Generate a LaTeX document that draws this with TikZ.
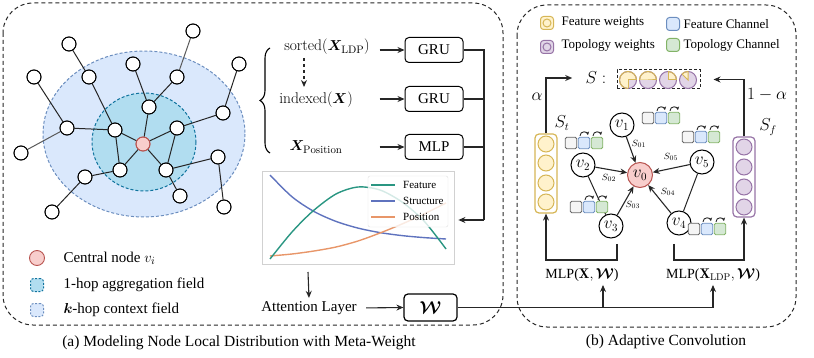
\documentclass[tikz,border=0pt]{standalone}
\usepackage{amsmath,bm}
\usepackage{fontspec}
\newfontfamily\tnr{Liberation Serif}
\usetikzlibrary{arrows.meta,decorations.pathreplacing,calc}
\definecolor{kfill}{HTML}{DAE8FC}\definecolor{kdraw}{HTML}{6C8EBF}
\definecolor{hfill}{HTML}{B1DDF0}\definecolor{hdraw}{HTML}{10739E}
\definecolor{rfill}{HTML}{F8CECC}\definecolor{rdraw}{HTML}{B85450}
\definecolor{yfill}{HTML}{FFF2CC}\definecolor{ydraw}{HTML}{D6B656}
\definecolor{pfill}{HTML}{E1D5E7}\definecolor{pdraw}{HTML}{9673A6}
\definecolor{gfill}{HTML}{D5E8D4}\definecolor{gdraw}{HTML}{82B366}
\definecolor{grfill}{HTML}{F5F5F5}\definecolor{grdraw}{HTML}{666666}
\definecolor{fcol}{RGB}{42,150,130}\definecolor{scol}{RGB}{95,115,190}\definecolor{pcol}{RGB}{232,150,105}
\newcommand\fs[1]{\fontsize{#1}{#1}\selectfont}
\newcommand\mypie[4]{%
 \fill[pfill] (#1,#2) circle[radius=8.5];
 \fill[yfill] (#1,#2) -- ++(#3:8.5) arc[start angle=#3,end angle=#4,radius=8.5] -- cycle;
 \draw[pdraw,line width=1pt] (#1,#2) circle[radius=8.5];
 \draw[ydraw,line width=1pt] (#1,#2) ++(#3:8.5) -- (#1,#2) -- ++(#4:8.5);
 \draw[ydraw,line width=1pt] (#1,#2) ++(#3:8.5) arc[start angle=#3,end angle=#4,radius=8.5];}
\newcommand\chtrip[3]{%
 \node[sq,fill=grfill,draw=grdraw] (#1a) at (#2,#3) {};
 \node[sq,fill=kfill,draw=kdraw] (#1b) at (#2+13,#3) {};
 \node[sq,fill=gfill,draw=gdraw] (#1c) at (#2+26,#3) {};
 \draw[lp] ($(#1b.north)+(-4,-1)$) arc[start angle=180,end angle=350,radius=4];
 \draw[lp] ($(#1c.north)+(-4,-1)$) arc[start angle=180,end angle=350,radius=4];}
\tikzset{
 gn/.style={circle,draw=black,fill=white,line width=0.9pt,minimum size=14pt,inner sep=0pt},
 ge/.style={line width=1pt,draw=black!85},
 boxn/.style={draw,rounded corners=4pt,line width=1pt,minimum width=58pt,minimum height=25pt,inner sep=0pt},
 arr/.style={-{Stealth[length=7pt,width=6pt]},line width=1.1pt,draw=black!85},
 vn/.style={circle,draw,line width=1pt,minimum size=24pt,inner sep=0pt,fill=white,font=\fs{16}},
 sq/.style={rounded corners=1.5pt,minimum size=11.5pt,inner sep=0pt,line width=0.9pt},
 lp/.style={-{Stealth[length=3.5pt,width=3.5pt]},line width=0.9pt,draw=black!85},
 panel/.style={draw=black!85,line width=1pt,dash pattern=on 4pt off 3pt,rounded corners=30pt},
 lbl/.style={font=\fs{9.5}},
 icon/.style={rounded corners=3pt,minimum size=13pt,inner sep=0pt,line width=1pt},
}
\begin{document}
\begin{tikzpicture}[x=1pt,y=-1pt,font=\tnr\fs{15}]
\useasboundingbox (0,0) rectangle (814,358);
% panels
\draw[panel] (3,3) rectangle (503,325);
\draw[panel] (517,5) rectangle (796,327);
\node[font=\tnr\fs{15.5}] (capa) at (239,343) {(a) Modeling Node Local Distribution with Meta-Weight};
\node[font=\tnr\fs{15.5}] (capb) at (666,342) {(b) Adaptive Convolution};
% fields
\draw[kdraw,fill=kfill,dash pattern=on 3pt off 2pt,line width=1pt] (144,134) ellipse[x radius=101,y radius=83];
\draw[hdraw,fill=hfill,dash pattern=on 3pt off 2pt,line width=1pt] (144,142) ellipse[x radius=52,y radius=49];
% graph nodes
\node[gn,fill=rfill,draw=rdraw] (c) at (143,144) {};
\node[gn] (A) at (69,44) {};
\node[gn] (B) at (34,77) {};
\node[gn] (C) at (89,77) {};
\node[gn] (D) at (133,64) {};
\node[gn] (E) at (193,31) {};
\node[gn] (F) at (177,77) {};
\node[gn] (G) at (239,64) {};
\node[gn] (H) at (149,107) {};
\node[gn] (I) at (67,128) {};
\node[gn] (J) at (115,130) {};
\node[gn] (K) at (177,128) {};
\node[gn] (L) at (223,113) {};
\node[gn] (M) at (21,153) {};
\node[gn] (N) at (120,170) {};
\node[gn] (O) at (166,170) {};
\node[gn] (P) at (218,157) {};
\node[gn] (Q) at (85,177) {};
\node[gn] (R) at (52,212) {};
\node[gn] (S) at (180,196) {};
\node[gn] (T) at (224,207) {};
\draw[ge] (A)--(C) (C)--(J) (B)--(I) (I)--(J) (D)--(H) (F)--(H) (H)--(c) (J)--(c) (J)--(N)
 (K)--(c) (K)--(L) (L)--(G) (K)--(O) (c)--(N) (c)--(O) (O)--(S) (O)--(P) (P)--(T) (N)--(Q) (Q)--(R);
\draw[line width=1pt,draw=black!65] (E)--(F) (I)--(M);
\foreach \n in {A,B,C,D,E,F,G,H,I,J,K,L,M,N,O,P,Q,R,S,T}{\fill[white] (\n) circle[radius=6.5];\draw[line width=0.9pt] (\n) circle[radius=7];}
\fill[rfill] (c) circle[radius=6.5];\draw[rdraw,line width=0.9pt] (c) circle[radius=7];
% legend left
\node[gn,fill=rfill,draw=rdraw,minimum size=15pt] (lg1) at (37,258) {};
\node[icon,fill=hfill,draw=hdraw,dash pattern=on 2pt off 1.5pt] (lg2) at (37,285) {};
\node[icon,fill=kfill,draw=kdraw,dash pattern=on 2pt off 1.5pt] (lg3) at (37,310) {};
\node[anchor=west] (lt1) at (60,258) {Central node $v_i$};
\node[anchor=west] (lt2) at (60,285) {1-hop aggregation field};
\node[anchor=west] (lt3) at (60,310) {$\bm{k}$-hop context field};
% brace and inputs
\draw[line width=1.1pt,decorate,decoration={brace,amplitude=10pt}] (270,153) -- (270,48);
\node[font=\rmfamily\fs{15.5}] (srt) at (327,47) {sorted($\bm{X}_{\mathrm{LDP}}$)};
\node[font=\rmfamily\fs{15.5}] (idx) at (316,100) {indexed($\bm{X}$)};
\node[font=\rmfamily\fs{15.5}] (pos) at (316,147) {$\bm{X}_{\mathrm{Position}}$};
\draw[arr,dashed] (304,58) -- (304,87);
\node[boxn] (gru1) at (434,50) {GRU};
\node[boxn] (gru2) at (434,99) {GRU};
\node[boxn] (mlp) at (434,147) {MLP};
\draw[arr] ([xshift=-25pt]gru1.west) -- (gru1.west);
\draw[arr] ([xshift=-25pt]gru2.west) -- (gru2.west);
\draw[arr] ([xshift=-25pt]mlp.west) -- (mlp.west);
\coordinate (cb) at (484,220);
\draw[line width=1.1pt,draw=black!85] (gru1.east) -| (cb);
\draw[line width=1.1pt,draw=black!85] (gru2.east) -- (gru2.east -| cb);
\draw[line width=1.1pt,draw=black!85] (mlp.east) -- (mlp.east -| cb);
% plot
\node[draw=black!18,line width=0.8pt,minimum width=192pt,minimum height=93pt,inner sep=0pt] (plotf) at (358,217.5) {};
\draw[arr] (cb) -- ([xshift=4pt]plotf.east |- cb);
\draw[scol,line width=1.4pt] plot[smooth] coordinates {(270,175) (292,196.8) (314,211.5) (336,221.4) (358,228.1) (380,232.6) (402,235.6) (424,237.6) (446,239)};
\draw[pcol,line width=1.4pt] plot[smooth] coordinates {(270,256) (292,254) (314,251) (336,247) (358,241) (380,233) (402,224) (424,214) (446,203)};
\draw[fcol,line width=1.4pt] plot[smooth] coordinates {(270,259) (292,232) (313,211) (336,194) (358,187) (380,190) (402,202) (424,221) (446,249)};
\node[draw=black!12,fill=white,fill opacity=0.8,rounded corners=2pt,minimum width=80pt,minimum height=51pt,inner sep=0pt] (pleg) at (408,201.5) {};
\draw[fcol,line width=1.4pt] (371,185) -- (395,185);
\draw[scol,line width=1.4pt] (371,201) -- (395,201);
\draw[pcol,line width=1.4pt] (371,217) -- (395,217);
\node[anchor=west,font=\tnr\fs{11},inner sep=0pt] (pl1) at (403,185) {Feature};
\node[anchor=west,font=\tnr\fs{11},inner sep=0pt] (pl2) at (403,201) {Structure};
\node[anchor=west,font=\tnr\fs{11},inner sep=0pt] (pl3) at (403,217) {Position};
% attention and W
\node (att) at (309,308) {Attention Layer};
\coordinate (a1) at (308,272);
\draw[arr] (a1) -- (att.north);
\node[draw,rounded corners=4pt,line width=1.2pt,minimum width=53pt,minimum height=27pt,inner sep=0pt,font=\fs{17}] (W) at (430.5,307.5) {$\bm{\mathcal{W}}$};
\draw[arr,shorten <=6pt] (att.east) -- (W.west);
\coordinate (j1) at (603,307.5);
\coordinate (j2) at (713,307.5);
\draw[line width=1.1pt,draw=black!85] (W.east) -- (j2);
\node (mlp1) at (582,275) {\fs{14}MLP($\mathbf{X},\bm{\mathcal{W}}$)};
\node (mlp2) at (713,275) {\fs{14}MLP($\mathbf{X}_{\mathrm{LDP}},\bm{\mathcal{W}}$)};
\draw[arr] (j1) -- (j1 |- mlp1.south);
\draw[arr] (j2) -- (mlp2.south);
% right legend
\node[icon,fill=yfill,draw=ydraw] (iy) at (547,23) {};
\draw[ydraw,line width=1pt] (iy) circle[radius=4];
\node[icon,fill=pfill,draw=pdraw] (ip) at (547,47) {};
\draw[pdraw,line width=1pt] (ip) circle[radius=4];
\node[icon,fill=kfill,draw=kdraw] (ib) at (673,24) {};
\node[icon,fill=gfill,draw=gdraw] (ig) at (673,45) {};
\node[anchor=west,font=\tnr\fs{13}] (ty) at (558,22) {Feature weights};
\node[anchor=west,font=\tnr\fs{13}] (tp) at (558,45) {Topology weights};
\node[anchor=west,font=\tnr\fs{13}] (tb) at (680,24) {Feature Channel};
\node[anchor=west,font=\tnr\fs{13}] (tg) at (680,45) {Topology Channel};
% S box
\node[font=\fs{17}] (Sl) at (596,78) {$S:$};
\node[draw=black!85,line width=1pt,dash pattern=on 3pt off 2pt,minimum width=83pt,minimum height=19pt,inner sep=0pt] (sbox) at (658.5,79.5) {};
\mypie{628}{80}{90}{360}
\mypie{648}{80}{180}{360}
\mypie{668}{80}{270}{360}
\mypie{688}{80}{225}{270}
% columns
\node[draw=ydraw,line width=1.2pt,rounded corners=4pt,minimum width=22pt,minimum height=79pt,inner sep=0pt] (ycol) at (546,173.5) {};
\foreach \yy in {144,163,183,202}{\draw[ydraw,fill=yfill,line width=1pt] (546,\yy) circle[radius=8];}
\node[draw=pdraw,line width=1.2pt,rounded corners=4pt,minimum width=22pt,minimum height=80pt,inner sep=0pt] (pcol) at (744,177) {};
\foreach \yy in {147,167,187,207}{\draw[pdraw,fill=pfill,line width=1pt] (744,\yy) circle[radius=8];}
\node[font=\fs{16}] (St) at (562,123) {$S_t$};
\node[font=\fs{16}] (Sf) at (768,127) {$S_f$};
\draw[arr] (ycol.north) |- ([xshift=-10pt]Sl.west);
\draw[arr] (pcol.north) |- ([xshift=13pt]sbox.east);
\node[font=\fs{16}] (al) at (537,97) {$\alpha$};
\node[font=\fs{16}] (oma) at (767,95) {$1-\alpha$};
% brackets
\coordinate (b1) at (617,244);\coordinate (b1c) at (617,260);
\coordinate (b2) at (674,244);\coordinate (b2c) at (674,260);
\draw[arr] (b1) -- (b1c) -| (ycol.south);
\draw[arr] (b2) -- (b2c) -| (pcol.south);
% right graph
\node[vn,fill=rfill,draw=rdraw,minimum size=25pt] (v0) at (640,175) {$v_0$};
\node[vn] (v1) at (622,125) {$v_1$};
\node[vn] (v2) at (583,165) {$v_2$};
\node[vn] (v3) at (611,226) {$v_3$};
\node[vn] (v4) at (679,223) {$v_4$};
\node[vn] (v5) at (702,162) {$v_5$};
\draw[line width=1pt,draw=black!85] (v2) -- (v3) (v5) -- (v4);
\foreach \v in {v1,v2,v3,v4,v5}{\draw[arr] (\v) -- (v0);}
\node[lbl] (s1) at (639,144) {$S_{01}$};
\node[lbl] (s2) at (609,178) {$S_{02}$};
\node[lbl] (s3) at (633,205) {$S_{03}$};
\node[lbl] (s4) at (668,192) {$S_{04}$};
\node[lbl] (s5) at (671,157) {$S_{05}$};
\chtrip{ta}{648}{118}
\chtrip{tb}{688}{137}
\chtrip{tc}{571}{143}
\chtrip{td}{576}{207}
\chtrip{te}{694}{229}
\end{tikzpicture}
\end{document}
